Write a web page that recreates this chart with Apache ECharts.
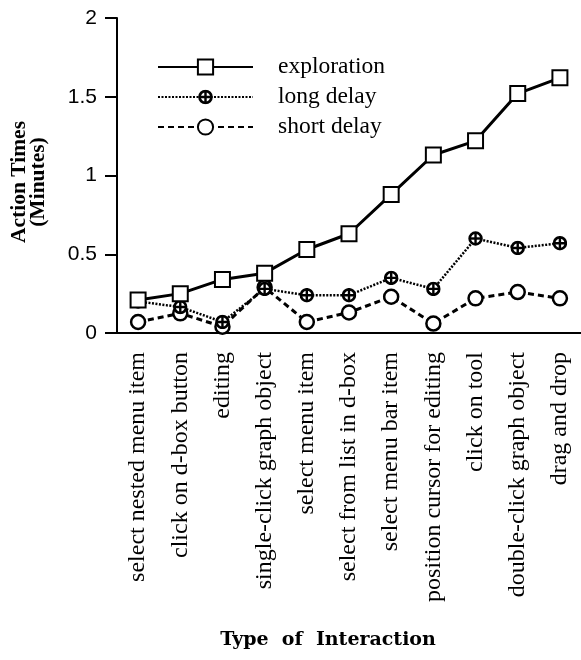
<!DOCTYPE html>
<html>
<head>
<meta charset="utf-8">
<script src="https://cdn.jsdelivr.net/npm/echarts@6/dist/echarts.min.js"></script>
<style>html,body{margin:0;padding:0;background:#fff;}#c{width:581px;height:660px;}</style>
</head>
<body>
<div id="c"></div>
<script>
var categories = ['select nested menu item','click on d-box button','editing','single-click graph object','select menu item','select from list in d-box','select menu bar item','position cursor for editing','click on tool','double-click graph object','drag and drop'];
var exploration = [0.21, 0.25, 0.34, 0.38, 0.53, 0.63, 0.88, 1.13, 1.22, 1.52, 1.62];
var longDelay   = [0.20, 0.165, 0.07, 0.28, 0.24, 0.24, 0.35, 0.28, 0.60, 0.54, 0.57];
var shortDelay  = [0.07, 0.125, 0.04, 0.29, 0.07, 0.13, 0.23, 0.06, 0.22, 0.26, 0.22];
var yTicks = [0, 0.5, 1, 1.5, 2];

var plusSvg = 'image://data:image/svg+xml;utf8,' + encodeURIComponent(
  '<svg xmlns="http://www.w3.org/2000/svg" width="28" height="28" viewBox="0 0 28 28">' +
  '<circle cx="14" cy="14" r="11" fill="#fff" stroke="#000" stroke-width="5"/>' +
  '<line x1="14" y1="3" x2="14" y2="25" stroke="#000" stroke-width="4.5"/>' +
  '<line x1="3" y1="14" x2="25" y2="14" stroke="#000" stroke-width="4.5"/>' +
  '</svg>');

var chart = echarts.init(document.getElementById('c'), null, {renderer: 'canvas'});
chart.setOption({
  backgroundColor: '#fff',
  animation: false,
  grid: {left: 117, right: 0, top: 18, bottom: 327, containLabel: false},
  legend: {
    orient: 'vertical', left: 152, top: 50,
    itemWidth: 95, itemHeight: 19, itemGap: 6,
    textStyle: {fontFamily: 'Liberation Serif', fontSize: 23.5, color: '#000', padding: [0, 0, 0, 20]},
    data: ['exploration', 'long delay', 'short delay']
  },
  xAxis: {
    type: 'category', data: categories, boundaryGap: true,
    axisLine: {lineStyle: {color: '#000', width: 2}},
    axisTick: {alignWithLabel: true, length: 12, lineStyle: {color: '#000', width: 2}},
    axisLabel: {rotate: 90, interval: 0, margin: 19, color: '#000', fontFamily: 'Liberation Serif', fontSize: 24},
    splitLine: {show: false}
  },
  yAxis: {
    type: 'value', min: yTicks[0], max: yTicks[yTicks.length - 1], interval: 0.5,
    axisLine: {show: true, lineStyle: {color: '#000', width: 2}},
    axisTick: {show: true, length: 12, lineStyle: {color: '#000', width: 2}},
    axisLabel: {color: '#000', fontFamily: 'Liberation Sans', fontSize: 21, margin: 20},
    splitLine: {show: false}
  },
  graphic: [
    {type: 'text', x: 29, y: 182, rotation: Math.PI / 2,
      style: {text: 'Action Times\n(Minutes)', fontFamily: 'Liberation Serif', fontWeight: 'bold', fontSize: 21.5,
        lineHeight: 19, fill: '#000', align: 'center', verticalAlign: 'middle'}},
    {type: 'text', x: 328, y: 640,
      style: {text: 'Type  of  Interaction', fontFamily: 'DejaVu Serif', fontWeight: 'bold', fontSize: 19,
        fill: '#000', align: 'center', verticalAlign: 'middle'}}
  ],
  series: [
    {name: 'short delay', type: 'line', data: shortDelay, symbol: 'circle', symbolSize: 14,
      itemStyle: {color: '#fff', borderColor: '#000', borderWidth: 2.5},
      lineStyle: {color: '#000', width: 3, type: [6, 4]}, z: 2},
    {name: 'long delay', type: 'line', data: longDelay, symbol: plusSvg, symbolSize: 15,
      itemStyle: {color: '#000', borderColor: '#000'},
      lineStyle: {color: '#000', width: 2.5, type: [2, 1.5]}, z: 3},
    {name: 'exploration', type: 'line', data: exploration, symbol: 'rect', symbolSize: 15,
      itemStyle: {color: '#fff', borderColor: '#000', borderWidth: 2},
      lineStyle: {color: '#000', width: 3, type: 'solid'}, z: 4}
  ]
});
</script>
</body>
</html>
